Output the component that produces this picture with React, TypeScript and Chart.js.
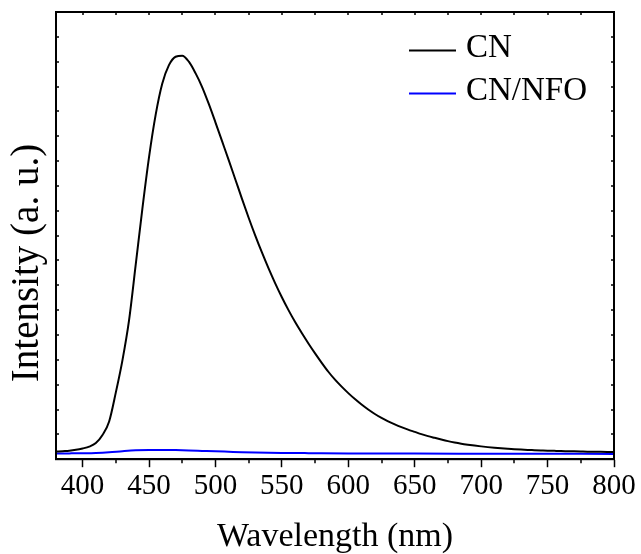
import React, { useEffect, useRef } from "react";
import { Chart, registerables } from "chart.js";

Chart.register(...registerables);

// Photoluminescence spectra (5 nm sampling for CN)
const wavelengthCN = [
  380, 385, 390, 395, 400, 405, 410, 415, 420, 425, 430, 435, 440, 445, 450,
  455, 460, 465, 470, 475, 480, 485, 490, 495, 500, 505, 510, 515, 520, 525,
  530, 535, 540, 545, 550, 555, 560, 565, 570, 575, 580, 585, 590, 595, 600,
  605, 610, 615, 620, 625, 630, 635, 640, 645, 650, 655, 660, 665, 670, 675,
  680, 685, 690, 695, 700, 705, 710, 715, 720, 725, 730, 735, 740, 745, 750,
  755, 760, 765, 770, 775, 780, 785, 790, 795, 800,
];
const intensityCN = [
  1.53, 1.62, 1.71, 1.89, 2.16, 2.52, 3.24, 4.86, 7.6, 13.4, 19.9, 28.0, 39.15, 50.4, 60.75,
  69.3, 75.6, 79.3, 81.0, 81.2, 80.0, 77.7, 74.9, 71.5, 67.8, 64.0, 60.2, 56.3, 52.4, 48.6,
  45.0, 41.6, 38.4, 35.4, 32.6, 30.0, 27.6, 25.4, 23.3, 21.3, 19.4, 17.6, 16.0, 14.6, 13.3,
  12.1, 11.0, 10.0, 9.1, 8.3, 7.6, 7.0, 6.45, 5.95, 5.5, 5.05, 4.65, 4.3, 3.96, 3.64,
  3.36, 3.12, 2.92, 2.74, 2.58, 2.43, 2.3, 2.19, 2.09, 2.0, 1.93, 1.87, 1.82, 1.77, 1.72,
  1.68, 1.64, 1.61, 1.58, 1.55, 1.52, 1.5, 1.48, 1.46, 1.44,
];

const wavelengthNFO = [
  380, 390, 400, 410, 420, 430, 440, 450, 460, 470, 480, 490, 500, 510, 520,
  530, 540, 550, 560, 570, 580, 600, 620, 650, 700, 750, 800,
];
const intensityNFO = [
  1.15, 1.17, 1.2, 1.26, 1.4, 1.62, 1.8, 1.87, 1.87, 1.83, 1.76, 1.67, 1.58, 1.5, 1.42,
  1.36, 1.31, 1.27, 1.24, 1.22, 1.2, 1.17, 1.15, 1.13, 1.11, 1.09, 1.07,
];

const seriesLabels = ["CN", "CN/NFO"];
const seriesColors = ["#000000", "#0000ff"];
const yTitle = "Intensity (a. u.)";
const xTitle = "Wavelength (nm)";

const xMin = 380;
const xMax = 800;
const xMajorStep = 50;
const xMinorTicks = [425, 475, 525, 575, 625, 675, 725, 775];
const yMin = 0;
const yMax = 90;
const yTickStep = 5;

const serif = '"Liberation Serif", "Times New Roman", Times, serif';

const pairs = (xs: number[], ys: number[]) => xs.map((x, i) => ({ x, y: ys[i] }));

// Draws the closed frame, inward/minor ticks, the vertical axis title and the in-plot legend.
const framePlugin = {
  id: "frame",
  afterDraw(chart: any) {
    const { ctx, chartArea, scales } = chart;
    const { left, right, top, bottom } = chartArea;
    const xs = scales.x;
    const ys = scales.y;
    ctx.save();
    ctx.strokeStyle = "#000";
    ctx.lineWidth = 2;
    ctx.strokeRect(left, top, right - left, bottom - top);

    ctx.lineWidth = 1.5;
    ctx.beginPath();
    // minor ticks below the bottom axis
    for (const v of xMinorTicks) {
      const px = Math.round(xs.getPixelForValue(v));
      ctx.moveTo(px, bottom);
      ctx.lineTo(px, bottom + 4);
    }
    // inward ticks along the top edge
    for (let v = 400; v < xMax; v += 25) {
      const px = Math.round(xs.getPixelForValue(v));
      ctx.moveTo(px, top);
      ctx.lineTo(px, top + 3);
    }
    // inward ticks on left and right edges
    for (let v = yMin + yTickStep; v < yMax; v += yTickStep) {
      const py = Math.round(ys.getPixelForValue(v));
      ctx.moveTo(left, py);
      ctx.lineTo(left + 3, py);
      ctx.moveTo(right, py);
      ctx.lineTo(right - 3, py);
    }
    ctx.stroke();

    // vertical axis title
    ctx.save();
    ctx.translate(28, 263);
    ctx.rotate(-Math.PI / 2);
    ctx.font = `39px ${serif}`;
    ctx.fillStyle = "#000";
    ctx.textAlign = "center";
    ctx.textBaseline = "middle";
    ctx.fillText(yTitle, 0, 0);
    ctx.restore();

    // legend
    const lineX0 = 409;
    const lineX1 = 456;
    const rowY = [50.5, 93.5];
    ctx.font = `33px ${serif}`;
    ctx.textBaseline = "alphabetic";
    ctx.textAlign = "left";
    chart.data.datasets.forEach((ds: any, i: number) => {
      ctx.strokeStyle = ds.borderColor;
      ctx.lineWidth = 2;
      ctx.beginPath();
      ctx.moveTo(lineX0, rowY[i]);
      ctx.lineTo(lineX1, rowY[i]);
      ctx.stroke();
      ctx.fillStyle = "#000";
      ctx.fillText(ds.label, 466, rowY[i] + 6.5);
    });
    ctx.restore();
  },
};

export default function App() {
  const canvasRef = useRef<HTMLCanvasElement | null>(null);

  useEffect(() => {
    document.body.style.margin = "0";
    const canvas = canvasRef.current;
    if (!canvas) return;
    const chart = new Chart(canvas, {
      type: "line",
      data: {
        datasets: [
          {
            label: seriesLabels[0],
            data: pairs(wavelengthCN, intensityCN),
            borderColor: seriesColors[0],
            borderWidth: 2,
            pointRadius: 0,
            cubicInterpolationMode: "monotone",
          },
          {
            label: seriesLabels[1],
            data: pairs(wavelengthNFO, intensityNFO),
            borderColor: seriesColors[1],
            borderWidth: 2,
            pointRadius: 0,
            cubicInterpolationMode: "monotone",
          },
        ],
      },
      options: {
        responsive: false,
        animation: false,
        devicePixelRatio: 1,
        layout: { padding: { left: 56, right: 27, top: 12, bottom: 0 } },
        plugins: {
          legend: { display: false },
          tooltip: { enabled: false },
        },
        scales: {
          x: {
            type: "linear",
            min: xMin,
            max: xMax,
            ticks: {
              stepSize: xMajorStep,
              includeBounds: false,
              color: "#000",
              font: { family: serif, size: 29 },
              padding: 2,
              maxRotation: 0,
            },
            grid: {
              display: true,
              drawOnChartArea: false,
              drawTicks: true,
              tickLength: 8,
              tickWidth: 1.5,
              tickColor: "#000",
            },
            border: { display: true, color: "#000", width: 2 },
            title: {
              display: true,
              text: xTitle,
              color: "#000",
              font: { family: serif, size: 34, lineHeight: 1 },
              padding: { top: 14, bottom: 0 },
            },
          },
          y: {
            type: "linear",
            min: yMin,
            max: yMax,
            ticks: { display: false },
            grid: { display: false, drawTicks: false },
            border: { display: true, color: "#000", width: 2 },
          },
        },
      },
      plugins: [framePlugin],
    });
    return () => chart.destroy();
  }, []);

  return (
    <div style={{ position: "absolute", left: 0, top: 0, width: 641, height: 554, background: "#fff" }}>
      <canvas ref={canvasRef} width={641} height={554} />
    </div>
  );
}
